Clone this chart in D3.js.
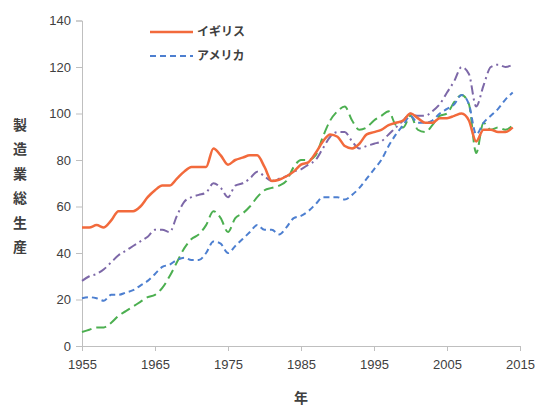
<!DOCTYPE html>
<html><head><meta charset="utf-8">
<script src="https://cdn.jsdelivr.net/npm/d3@7"></script>
<style>body{margin:0;background:#fff}svg{display:block}</style>
</head><body><svg id="c" width="540" height="406"></svg>
<script>
const years = d3.range(1955, 2015);
const uk = [51,51,52,51,54,58,58,58,60,64,67,69,69,72,75,77,77,77,85,82,78,80,81,82,82,77,71,71.5,73,75,78,79,83,88,91,90,86,85,87,91,92,93,95,96,97,100,98,96,96,98,98,99,100,97,88,93,93,92,92,94];
const us = [20.5,21,20.5,19.5,22,22,23,24,26,28,31,34,35,37,38,37,37,40,45,44,40,43,46,49,52,50,50,48,51,55,56,58,61,64,64,64,63,65,68,72,76,80,86,91,95,99,96,96,97,100,102,104,108,104,91,96,99,102,106,109];
const jp = [6,7,8,8,10,13,15,17,19,21,22,25,30,36,42,46,48,52,58,55,49,55,57,60,64,67,68,69,71,77,80,80,82,90,97,101,103,97,93,94,97,99,101,95,94,99,93,92,95,99,100,105,108,104,83,96,93,94,93,95];
const de = [28,30,31,33,36,39,41,43,45,47,50,50,49,56,62,64,65,66,70,68,64,69,70,72,75,73,71,72,73,75,76,78,80,85,90,92,92,88,85,86,87,88,91,94,97,100,99,99,101,104,109,114,120,117,103,112,120,121,120,121];
const legendNames = ["イギリス","アメリカ"];
const xTicks = [1955,1965,1975,1985,1995,2005,2015];
const yTicks = [0,20,40,60,80,100,120,140];

const svg = d3.select("#c");
const x = d3.scaleLinear().domain([1955,2015]).range([82,520]);
const y = d3.scaleLinear().domain([0,140]).range([346,20.5]);
const axisColor = "#bfbfbf";
const font = "'Liberation Sans', Arial, sans-serif";

const gx = svg.append("g").attr("transform","translate(0,346)")
  .call(d3.axisBottom(x).tickValues(xTicks).tickFormat(d3.format("d")).tickSize(5).tickPadding(9));
const gy = svg.append("g").attr("transform","translate(82,0)")
  .call(d3.axisLeft(y).tickValues(yTicks).tickSize(6).tickPadding(5));
[gx,gy].forEach(g=>{
  g.select(".domain").attr("stroke",axisColor);
  g.selectAll(".tick line").attr("stroke",axisColor);
  g.selectAll("text").attr("fill","#404040").style("font-family",font).style("font-size","13px");
});

const series = [
  {v:de, color:"#7d68a8", dash:"9,4,2,4", w:2},
  {v:jp, color:"#4caf50", dash:"10,5", w:2},
  {v:us, color:"#4d7fd0", dash:"6,4", w:2},
  {v:uk, color:"#f26a3c", dash:null, w:2.5}
];
const line = d3.line().x((d,i)=>x(years[i])).y(d=>y(d)).curve(d3.curveMonotoneX);
series.forEach(s=>{
  svg.append("path").datum(s.v).attr("d",line).attr("fill","none")
    .attr("stroke",s.color).attr("stroke-width",s.w)
    .attr("stroke-dasharray",s.dash).attr("stroke-linejoin","round");
});

// legend
const leg = [{c:"#f26a3c",d:null,w:2.5},{c:"#4d7fd0",d:"6,4",w:2}];
legendNames.forEach((n,i)=>{
  const ly = 32 + i*24;
  svg.append("line").attr("x1",150).attr("x2",193).attr("y1",ly).attr("y2",ly)
    .attr("stroke",leg[i].c).attr("stroke-width",leg[i].w).attr("stroke-dasharray",leg[i].d);
  svg.append("text").attr("x",197).attr("y",ly).attr("dy","0.35em").text(n)
    .style("font-family","'Noto Sans CJK JP', sans-serif").style("font-size","12px")
    .style("font-weight","bold").attr("fill","#404040");
});

// axis titles
svg.append("text").attr("x",301).attr("y",398).attr("dy","0.35em").attr("text-anchor","middle")
  .text("年").style("font-family","'Noto Sans CJK JP', sans-serif").style("font-size","14px")
  .style("font-weight","bold").attr("fill","#404040");
const ytitle = "製造業総生産".split("");
ytitle.forEach((ch,i)=>{
  svg.append("text").attr("x",20).attr("y",125 + i*24.5).attr("dy","0.35em").attr("text-anchor","middle")
    .text(ch).style("font-family","'Noto Sans CJK JP', sans-serif").style("font-size","14px")
    .style("font-weight","bold").attr("fill","#404040");
});
</script></body></html>
